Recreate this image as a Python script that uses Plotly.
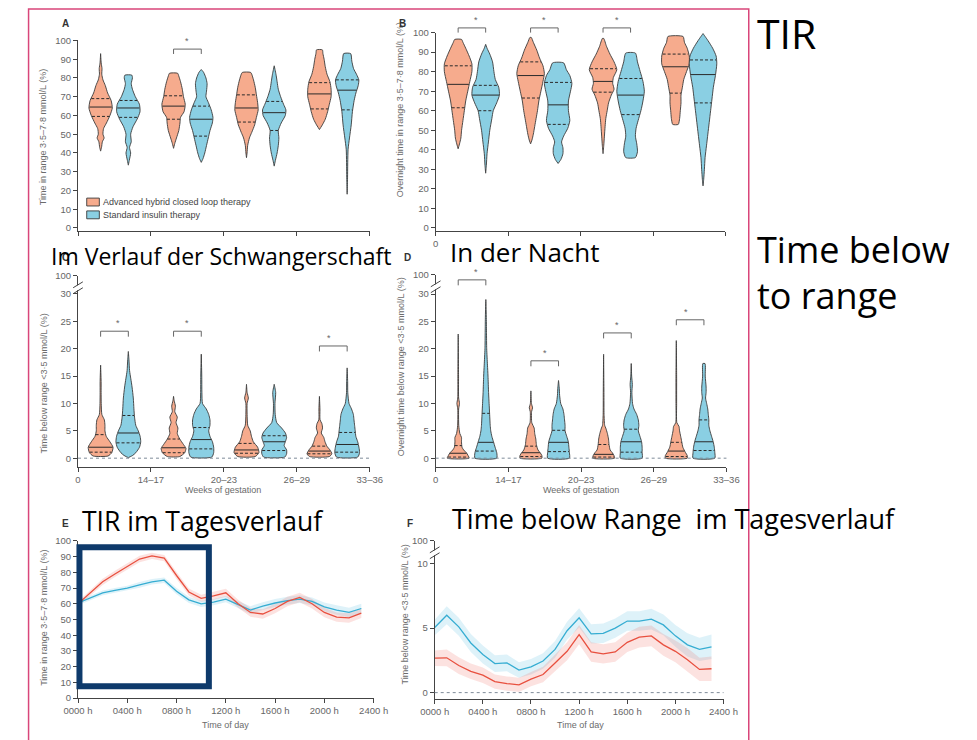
import numpy as np
import plotly.graph_objects as go

W, H = 977, 740


def px(x):
    return x / W


def py(y):
    return 1 - y / H


# ---------------- colours / fonts ----------------
ORANGE_FILL = "#F6AB8D"
BLUE_FILL = "#8ACFE3"
OUTLINE = "#3a3a3a"
RED_LINE = "#E8503F"
BLUE_LINE = "#36ADD2"
RED_BAND = "rgba(240,110,100,0.20)"
BLUE_BAND = "rgba(90,190,225,0.20)"
SMALL_FONT = "Liberation Sans Narrow, Arial Narrow, Liberation Sans, sans-serif"
BIG_FONT = "Open Sans, Noto Sans, sans-serif"
TICK_COLOR = "#666666"

# ---------------- categories / tick labels ----------------
WEEK_LABELS = ["0", "14–17", "20–23", "26–29", "33–36"]
HOURS = list(range(24))
HOUR_TICKS = [0, 4, 8, 12, 16, 20, 24]
HOUR_LABELS = ["0000 h", "0400 h", "0800 h", "1200 h", "1600 h", "2000 h", "2400 h"]
LEGEND_NAMES = ["Advanced hybrid closed loop therapy", "Standard insulin therapy"]

# ---------------- Panel A: time in range (violin profiles: (value, relative density)) ----
A_ahcl_profiles = [
    [(41, 0), (43, 0.08), (46, 0.15), (48, 0.3), (50, 0.2), (53, 0.25), (56, 0.5), (60, 0.8), (64, 1.0),
     (68, 0.9), (72, 0.6), (76, 0.4), (79, 0.2), (82, 0.1), (85, 0.12), (88, 0.05), (93, 0)],
    [(42.5, 0), (45, 0.1), (48, 0.25), (52, 0.45), (56, 0.55), (59, 0.6), (62, 0.9), (66, 1.0), (70, 0.85),
     (74, 0.75), (78, 0.6), (81, 0.45), (82.5, 0.35)],
    [(37.5, 0), (40, 0.05), (44, 0.1), (48, 0.25), (51, 0.45), (55, 0.7), (59, 0.85), (63, 1.0), (67, 0.95),
     (71, 0.85), (75, 0.75), (79, 0.6), (82, 0.45), (83, 0.35)],
    [(52.5, 0), (55, 0.25), (58, 0.5), (62, 0.7), (66, 0.85), (70, 1.0), (74, 1.0), (78, 0.9), (82, 0.65),
     (86, 0.5), (90, 0.4), (93, 0.3), (95, 0.25)],
]
A_std_profiles = [
    [(33.5, 0), (36, 0.08), (40, 0.2), (43, 0.1), (46, 0.25), (50, 0.2), (54, 0.4), (58, 0.75), (62, 1.0),
     (66, 0.95), (70, 0.6), (74, 0.35), (77, 0.25), (80, 0.35), (81.5, 0.3)],
    [(35, 0), (37, 0.15), (40, 0.3), (44, 0.45), (48, 0.6), (52, 0.75), (56, 0.95), (59, 1.0), (63, 0.85),
     (67, 0.6), (70, 0.4), (73, 0.45), (77, 0.5), (80, 0.4), (83, 0.2), (84.5, 0)],
    [(33, 0), (36, 0.1), (40, 0.25), (44, 0.35), (48, 0.4), (52, 0.35), (56, 0.6), (60, 0.95), (63, 1.0),
     (66, 0.8), (70, 0.55), (74, 0.35), (78, 0.25), (82, 0.15), (86.5, 0)],
    [(18, 0), (25, 0.03), (35, 0.05), (42, 0.08), (48, 0.2), (55, 0.35), (62, 0.45), (68, 0.6), (72, 0.75),
     (76, 0.95), (79, 1.0), (82, 0.8), (85, 0.55), (89, 0.4), (93, 0.3)],
]
A_ahcl_quartiles = [(59.5, 64.5, 69), (58, 65, 70.5), (56.5, 64, 71), (63.5, 71.5, 77.5)]
A_std_quartiles = [(59, 64, 68), (49, 58, 65), (52, 61.5, 67.5), (63, 73.5, 79)]
A_sig_groups = [1]
A_bracket_levels = [95.4]

# ---------------- Panel B: overnight time in range ----------------
B_ahcl_profiles = [
    [(40.5, 0), (43, 0.1), (46, 0.2), (50, 0.25), (55, 0.35), (60, 0.45), (65, 0.55), (70, 0.7), (75, 0.85),
     (80, 1.0), (84, 1.0), (88, 0.8), (92, 0.55), (95, 0.35), (96.5, 0.25)],
    [(43, 0), (45, 0.1), (48, 0.2), (52, 0.3), (56, 0.4), (60, 0.5), (65, 0.6), (70, 0.75), (75, 0.9),
     (79, 1.0), (83, 0.9), (87, 0.65), (91, 0.45), (95, 0.2), (97.5, 0.05)],
    [(38, 0), (42, 0.05), (47, 0.1), (52, 0.15), (56, 0.2), (60, 0.3), (64, 0.4), (68, 0.6), (71, 0.8),
     (74, 0.7), (77, 0.75), (81, 1.0), (85, 0.8), (89, 0.5), (93, 0.25), (97, 0.05)],
    [(53, 0.2), (56, 0.3), (60, 0.35), (64, 0.4), (68, 0.4), (72, 0.5), (76, 0.6), (80, 0.8), (84, 1.0),
     (88, 1.0), (92, 0.85), (95, 0.65), (98, 0.55)],
]
B_std_profiles = [
    [(28, 0), (32, 0.05), (38, 0.1), (44, 0.2), (50, 0.3), (56, 0.45), (60, 0.55), (64, 0.8), (68, 1.0),
     (72, 0.95), (76, 0.7), (80, 0.6), (85, 0.5), (89, 0.3), (92, 0.1), (94, 0)],
    [(33, 0), (35, 0.2), (38, 0.35), (41, 0.35), (44, 0.25), (47, 0.4), (51, 0.7), (55, 0.85), (60, 0.75),
     (65, 0.75), (70, 0.9), (74, 1.0), (78, 0.85), (81, 0.6), (84.5, 0.4)],
    [(36, 0.35), (39, 0.5), (43, 0.45), (47, 0.35), (51, 0.4), (55, 0.55), (60, 0.75), (65, 0.9), (70, 1.0),
     (75, 0.9), (80, 0.7), (85, 0.5), (89.5, 0.35)],
    [(21.5, 0), (25, 0.05), (30, 0.1), (36, 0.15), (42, 0.25), (48, 0.35), (54, 0.45), (60, 0.55), (66, 0.65),
     (72, 0.75), (78, 0.9), (84, 1.0), (88, 0.95), (92, 0.7), (96, 0.35), (99.5, 0)],
]
B_ahcl_quartiles = [(61.5, 73.5, 83), (66.5, 78, 85), (69.5, 75, 81.5), (69, 82.5, 89)]
B_std_quartiles = [(60, 68, 73), (53, 63, 74.5), (58, 68, 76.5), (64, 78.5, 86)]
B_sig_groups = [0, 1, 2]
B_bracket_levels = [102.4, 102.4, 102.4]

# ---------------- Panel C: time below range ----------------
C_ahcl_profiles = [
    [(0.4, 0.6), (1, 0.9), (2, 1.0), (3, 0.75), (4, 0.45), (5, 0.35), (6, 0.35), (7, 0.3), (8, 0.1), (10, 0.05),
     (12, 0.04), (14, 0.04), (17, 0)],
    [(0.3, 0.5), (1, 0.9), (1.8, 1.0), (2.5, 0.8), (3.5, 0.5), (4.5, 0.3), (5.5, 0.35), (6.5, 0.2), (7.5, 0.3),
     (8.5, 0.1), (9.5, 0.15), (10.5, 0.05), (11.3, 0)],
    [(0.3, 0.7), (1, 1.0), (2, 0.9), (3, 0.55), (4, 0.4), (5, 0.3), (6, 0.1), (8, 0.05), (10, 0.05), (11, 0.15),
     (12, 0.05), (13.5, 0)],
    [(0.3, 0.8), (0.8, 1.0), (1.5, 0.85), (2.2, 0.6), (3, 0.45), (3.8, 0.35), (4.6, 0.15), (5.5, 0.25),
     (6.3, 0.2), (7, 0.05), (9, 0.04), (11.3, 0)],
]
C_std_profiles = [
    [(0.1, 0), (0.5, 0.35), (1, 0.6), (2, 0.9), (3, 1.0), (4, 0.95), (5, 0.8), (6, 0.6), (7.5, 0.5), (9, 0.45),
     (11, 0.4), (13, 0.3), (14.5, 0.2), (16, 0.1), (18, 0.05), (19.5, 0)],
    [(0.2, 0.85), (1, 1.0), (2, 1.0), (3, 0.9), (4, 0.7), (5, 0.6), (6, 0.7), (7, 0.7), (8, 0.6), (9, 0.4),
     (10, 0.1), (12, 0.05), (15, 0.04), (19, 0)],
    [(0.2, 0.85), (0.8, 1.0), (1.5, 1.0), (2.3, 0.8), (3, 0.9), (3.8, 1.0), (4.6, 0.9), (5.5, 0.6), (6.5, 0.2),
     (8, 0.08), (10, 0.06), (12, 0.12), (13.5, 0)],
    [(0.2, 0.85), (1, 1.0), (2, 0.95), (3, 0.85), (4, 0.7), (5, 0.65), (6, 0.6), (7, 0.55), (8, 0.5), (9, 0.35),
     (10, 0.15), (12, 0.05), (14, 0.04), (16.5, 0)],
]
C_ahcl_quartiles = [(1.1, 2.0, 4.3), (1.0, 1.9, 3.5), (0.9, 1.5, 2.7), (0.8, 1.3, 2.2)]
C_std_quartiles = [(2.8, 4.6, 7.8), (1.7, 3.4, 5.6), (1.4, 3.0, 4.1), (1.1, 2.5, 4.7)]
C_sig_groups = [0, 1, 3]
C_bracket_levels = [23.2, 23.2, 20.5]

# ---------------- Panel D: overnight time below range ----------------
D_ahcl_profiles = [
    [(0, 1.0), (0.5, 0.9), (1, 0.75), (1.5, 0.5), (2, 0.35), (3, 0.3), (3.8, 0.3), (4.5, 0.15), (6, 0.05),
     (9, 0.04), (10, 0.12), (11, 0.04), (15, 0.03), (22.7, 0)],
    [(0, 1.0), (0.5, 1.0), (1, 0.85), (1.5, 0.65), (2.5, 0.5), (3.5, 0.45), (4.5, 0.35), (5.5, 0.3), (6.5, 0.08),
     (8.5, 0.06), (9.2, 0.15), (10, 0.05), (12.3, 0)],
    [(0, 1.0), (0.5, 0.95), (1, 0.8), (1.5, 0.6), (2.5, 0.5), (3.5, 0.45), (4.5, 0.35), (5.5, 0.2), (6, 0.1),
     (8, 0.04), (12, 0.03), (19, 0)],
    [(0, 1.0), (0.5, 1.0), (1, 0.85), (2, 0.6), (3, 0.5), (4, 0.4), (5, 0.3), (5.8, 0.25), (6.5, 0.05), (10, 0.03),
     (15, 0.03), (21.5, 0)],
]
D_std_profiles = [
    [(0, 1.0), (1, 1.0), (2, 0.85), (3, 0.7), (4, 0.55), (5, 0.45), (6, 0.4), (8, 0.35), (10, 0.3), (12, 0.25),
     (15, 0.2), (17, 0.15), (20, 0.08), (23, 0.06), (26, 0.04), (29, 0)],
    [(0, 1.0), (1, 1.0), (2, 0.95), (3, 0.9), (4, 0.75), (5, 0.6), (6, 0.6), (7, 0.55), (8, 0.5), (9, 0.4),
     (10, 0.2), (11.5, 0.1), (13, 0.06), (14.2, 0)],
    [(0, 1.0), (1, 1.0), (2, 1.0), (3, 0.95), (4, 0.8), (5, 0.65), (6, 0.7), (7, 0.65), (8, 0.5), (9, 0.25),
     (10, 0.12), (12, 0.06), (13.5, 0.1), (15, 0.04), (17.3, 0)],
    [(0, 1.0), (1, 1.0), (2, 0.95), (3, 0.85), (4, 0.7), (5, 0.55), (6, 0.45), (7, 0.45), (8, 0.4), (9, 0.35),
     (10, 0.25), (11, 0.15), (12, 0.2), (13, 0.2), (15, 0.12), (17.3, 0.1)],
]
D_ahcl_quartiles = [(0.2, 0.9, 2.3), (0.3, 1.0, 2.2), (0.2, 0.7, 2.5), (0.3, 1.3, 2.9)]
D_std_quartiles = [(1.3, 2.9, 8.2), (1.2, 2.9, 5.1), (1.1, 3.0, 5.3), (1.4, 3.0, 7.0)]
D_sig_groups = [0, 1, 2, 3]
D_bracket_levels = [32.6, 17.8, 22.9, 25.3]

# ---------------- Panel E: hourly time in range ----------------
E_ahcl = [60, 67, 74, 79, 84, 88.5, 90.5, 89, 78, 67.5, 63.5, 65, 67, 60, 54.5, 53.5, 57, 61.5, 64, 60,
          54.5, 51.5, 51, 54]
E_std = [60.5, 64, 67, 68.5, 70, 72, 74, 75, 68, 62.5, 60, 61, 63, 59.5, 56, 58.5, 60.5, 62, 63, 61.5,
         58, 56, 54.5, 57]
E_ahcl_ci = [1.5, 1.8, 2, 2, 2, 2, 2, 2, 2.2, 2.2, 2.2, 2.5, 2.5, 2.5, 2.8, 3, 3, 3, 3, 3, 3, 3, 3, 3]
E_std_ci = [1.5, 1.5, 1.5, 1.5, 1.5, 1.8, 1.8, 1.8, 2, 2, 2, 2, 2, 2.2, 2.5, 2.5, 2.5, 2.5, 2.5, 2.5, 2.8, 3, 3, 3]

# ---------------- Panel F: hourly time below range ----------------
F_ahcl = [2.67, 2.7, 2.1, 1.65, 1.35, 0.85, 0.7, 0.6, 1.05, 1.4, 2.3, 3.2, 4.5, 3.15, 3.0, 3.15, 3.9, 4.3,
          4.4, 3.7, 3.2, 2.55, 1.8, 1.85]
F_std = [5.05, 6.0, 5.1, 3.85, 2.95, 2.25, 2.3, 1.75, 2.0, 2.45, 3.35, 4.8, 5.8, 4.55, 4.6, 5.0, 5.55, 5.55,
         5.7, 5.25, 4.4, 3.7, 3.35, 3.55]
F_ahcl_ci = [0.6, 0.65, 0.65, 0.6, 0.6, 0.55, 0.55, 0.55, 0.55, 0.6, 0.65, 0.7, 0.75, 0.75, 0.75, 0.75, 0.75,
             0.8, 0.8, 0.85, 0.85, 0.9, 0.9, 0.95]
F_std_ci = [0.6, 0.7, 0.7, 0.7, 0.7, 0.65, 0.65, 0.6, 0.6, 0.6, 0.65, 0.7, 0.75, 0.75, 0.75, 0.75, 0.75, 0.75,
            0.8, 0.8, 0.85, 0.9, 0.9, 0.95]

# ---------------- layout geometry (pixels) ----------------
PANELS = {
    1: dict(xd=(65, 366), yd=(228, 35), xr=[0, 4], yr=[-1.4, 100]),
    2: dict(xd=(434, 733), yd=(228, 27), xr=[0, 4], yr=[-1.4, 100]),
    3: dict(xd=(65, 366), yd=(468, 274), xr=[0, 4], yr=[-1.62, 33.3]),
    4: dict(xd=(434, 734), yd=(468, 273), xr=[0, 4], yr=[-1.62, 33.5]),
    5: dict(xd=(65, 370), yd=(702.5, 543), xr=[0, 24], yr=[0, 100]),
    6: dict(xd=(433, 731), yd=(703, 543), xr=[0, 24], yr=[-0.46, 11.76]),
}
AHCL_OFFSET, STD_OFFSET = 0.31, 0.69
MAX_HALF_WIDTH = {1: 0.16, 2: 0.19, 3: 0.17, 4: 0.15}

fig = go.Figure()


def ax(n):
    return ("x" if n == 1 else f"x{n}"), ("y" if n == 1 else f"y{n}")


def add_violins(n, profiles, quartiles, offset, fill):
    xa, ya = ax(n)
    hw = MAX_HALF_WIDTH[n]
    mx, my, qx, qy = [], [], [], []
    for g, prof in enumerate(profiles):
        c = g + offset
        ys = np.array([p[0] for p in prof], float)
        ws = np.array([p[1] for p in prof], float) * hw
        xs = np.concatenate([c + ws, (c - ws)[::-1], [c + ws[0]]])
        yy = np.concatenate([ys, ys[::-1], [ys[0]]])
        fig.add_trace(go.Scatter(x=xs, y=yy, mode="lines", fill="toself", fillcolor=fill,
                                 line=dict(color=OUTLINE, width=0.9, shape="spline", smoothing=0.6),
                                 xaxis=xa, yaxis=ya, hoverinfo="skip", showlegend=False))
        q1, med, q3 = quartiles[g]
        for val, tx, ty in ((med, mx, my), (q1, qx, qy), (q3, qx, qy)):
            w = float(np.interp(val, ys, ws)) * 0.97
            tx += [c - w, c + w, None]
            ty += [val, val, None]
    fig.add_trace(go.Scatter(x=mx, y=my, mode="lines", line=dict(color="#2a2a2a", width=1),
                             xaxis=xa, yaxis=ya, hoverinfo="skip", showlegend=False))
    fig.add_trace(go.Scatter(x=qx, y=qy, mode="lines", line=dict(color="#2a2a2a", width=1, dash="3px,2px"),
                             xaxis=xa, yaxis=ya, hoverinfo="skip", showlegend=False))


shapes = []
annotations = []


def add_brackets(n, groups, levels, leg):
    xa, ya = ax(n)
    r0, r1 = PANELS[n]["yr"]
    for g, lvl in zip(groups, levels):
        x0 = (g + AHCL_OFFSET) / 4
        x1 = (g + STD_OFFSET) / 4
        yt = (lvl - r0) / (r1 - r0)
        yb = (lvl - leg - r0) / (r1 - r0)
        shapes.append(dict(type="path", xref=f"{xa} domain", yref=f"{ya} domain",
                           path=f"M {x0},{yb} L {x0},{yt} L {x1},{yt} L {x1},{yb}",
                           line=dict(color="#666", width=1)))
        annotations.append(dict(x=(g + 0.5) / 4, y=yt, xref=f"{xa} domain", yref=f"{ya} domain", text="*",
                                showarrow=False, yanchor="bottom", yshift=1,
                                font=dict(size=9, color="#666", family=SMALL_FONT)))


for n, (ap, aq, sp, sq, sg, bl, leg) in {
    1: (A_ahcl_profiles, A_ahcl_quartiles, A_std_profiles, A_std_quartiles, A_sig_groups, A_bracket_levels, 2.6),
    2: (B_ahcl_profiles, B_ahcl_quartiles, B_std_profiles, B_std_quartiles, B_sig_groups, B_bracket_levels, 2.4),
    3: (C_ahcl_profiles, C_ahcl_quartiles, C_std_profiles, C_std_quartiles, C_sig_groups, C_bracket_levels, 1.0),
    4: (D_ahcl_profiles, D_ahcl_quartiles, D_std_profiles, D_std_quartiles, D_sig_groups, D_bracket_levels, 1.0),
}.items():
    add_violins(n, ap, aq, AHCL_OFFSET, ORANGE_FILL)
    add_violins(n, sp, sq, STD_OFFSET, BLUE_FILL)
    add_brackets(n, sg, bl, leg)

# hourly panels
for n, series in ((5, [(E_std, E_std_ci, BLUE_BAND), (E_ahcl, E_ahcl_ci, RED_BAND)]),
                  (6, [(F_std, F_std_ci, BLUE_BAND), (F_ahcl, F_ahcl_ci, RED_BAND)])):
    xa, ya = ax(n)
    for vals, ci, band in series:
        v = np.array(vals, float)
        c = np.array(ci, float)
        fig.add_trace(go.Scatter(x=HOURS, y=v + c, mode="lines", line=dict(width=0), xaxis=xa, yaxis=ya,
                                 hoverinfo="skip", showlegend=False))
        fig.add_trace(go.Scatter(x=HOURS, y=v - c, mode="lines", line=dict(width=0), fill="tonexty",
                                 fillcolor=band, xaxis=xa, yaxis=ya, hoverinfo="skip", showlegend=False))
for n, std, ahcl in ((5, E_std, E_ahcl), (6, F_std, F_ahcl)):
    xa, ya = ax(n)
    fig.add_trace(go.Scatter(x=HOURS, y=std, mode="lines", line=dict(color=BLUE_LINE, width=1.3),
                             xaxis=xa, yaxis=ya, hoverinfo="skip", showlegend=False))
    fig.add_trace(go.Scatter(x=HOURS, y=ahcl, mode="lines", line=dict(color=RED_LINE, width=1.3),
                             xaxis=xa, yaxis=ya, hoverinfo="skip", showlegend=False))

# ---------------- axes ----------------
tickfont = dict(family=SMALL_FONT, size=9.5, color=TICK_COLOR)
common = dict(showline=True, linecolor="#444", linewidth=1, ticks="outside", ticklen=4, tickcolor="#444",
              tickwidth=1, showgrid=False, zeroline=False, tickfont=tickfont, fixedrange=True)
layout_axes = {}
y_ticks = {
    1: (list(range(0, 101, 10)), [str(v) for v in range(0, 101, 10)]),
    2: (list(range(0, 101, 10)), [str(v) for v in range(0, 101, 10)]),
    3: ([0, 5, 10, 15, 20, 25, 30, 33.3], ["0", "5", "10", "15", "20", "25", "30", "100"]),
    4: ([0, 5, 10, 15, 20, 25, 30, 33.5], ["0", "5", "10", "15", "20", "25", "30", "100"]),
    5: (list(range(0, 101, 10)), [str(v) for v in range(0, 101, 10)]),
    6: ([0, 5, 10, 11.76], ["0", "5", "10", "100"]),
}
x_ticks = {
    1: ([0, 1, 2, 3, 4], ["", "", "", "", ""]),
    2: ([0, 1, 2, 3, 4], ["0", "", "", "", ""]),
    3: ([0, 1, 2, 3, 4], WEEK_LABELS),
    4: ([0, 1, 2, 3, 4], WEEK_LABELS),
    5: (HOUR_TICKS, HOUR_LABELS),
    6: (HOUR_TICKS, HOUR_LABELS),
}
for n, p in PANELS.items():
    xk = "xaxis" if n == 1 else f"xaxis{n}"
    yk = "yaxis" if n == 1 else f"yaxis{n}"
    xa, ya = ax(n)
    layout_axes[xk] = dict(common, domain=[px(p["xd"][0]), px(p["xd"][1])], range=p["xr"], anchor=ya,
                           tickvals=x_ticks[n][0], ticktext=x_ticks[n][1])
    layout_axes[yk] = dict(common, domain=[py(p["yd"][0]), py(p["yd"][1])], range=p["yr"], anchor=xa,
                           tickvals=y_ticks[n][0], ticktext=y_ticks[n][1])

# dotted zero lines
for n in (3, 4, 6):
    xa, ya = ax(n)
    shapes.append(dict(type="line", xref=f"{xa} domain", yref=ya, x0=0, x1=1, y0=0, y1=0,
                       line=dict(color="#7f8c99", width=1, dash="dot")))

# axis breaks (//)
for (bx, by) in ((65, 286), (434, 285), (433, 555)):
    shapes.append(dict(type="rect", xref="paper", yref="paper", x0=px(bx - 3), x1=px(bx + 3),
                       y0=py(by + 2.5), y1=py(by - 2.5), line=dict(width=0), fillcolor="white"))
    for dy in (-3, 3):
        shapes.append(dict(type="line", xref="paper", yref="paper", x0=px(bx - 5), x1=px(bx + 5),
                           y0=py(by + dy + 3), y1=py(by + dy - 3), line=dict(color="#444", width=1)))

# legend (panel A)
for i, (name, col) in enumerate(zip(LEGEND_NAMES, [ORANGE_FILL, BLUE_FILL])):
    yc = 199 + 13 * i
    shapes.append(dict(type="rect", xref="paper", yref="paper", x0=px(74), x1=px(87), y0=py(yc + 4),
                       y1=py(yc - 4), fillcolor=col, line=dict(color=OUTLINE, width=0.9)))
    annotations.append(dict(x=px(89), y=py(yc), xref="paper", yref="paper", text=name, showarrow=False,
                            xanchor="left", yanchor="middle",
                            font=dict(family=SMALL_FONT, size=9, color="#444")))

# axis titles
ytitles = [
    (29, 133, "Time in range 3·5–7·8 mmol/L (%)"),
    (398, 105, "Overnight time in range 3·5–7·8 mmol/L (%)"),
    (30, 383, "Time below range <3·5 mmol/L (%)"),
    (398, 366, "Overnight time below range <3·5 mmol/L (%)"),
    (30, 621, "Time in range 3·5–7·8 mmol/L (%)"),
    (402, 618, "Time below range <3·5 mmol/L (%)"),
]
for x, y, t in ytitles:
    annotations.append(dict(x=px(x), y=py(y), xref="paper", yref="paper", text=t, showarrow=False,
                            textangle=-90, xanchor="center", yanchor="middle",
                            font=dict(family=SMALL_FONT, size=9, color="#6b6b6b")))
xtitles = [(215, 491, "Weeks of gestation"), (584, 491, "Weeks of gestation"),
           (217, 730, "Time of day"), (583, 730, "Time of day")]
for x, y, t in xtitles:
    annotations.append(dict(x=px(x), y=py(y), xref="paper", yref="paper", text=t, showarrow=False,
                            xanchor="center", yanchor="middle",
                            font=dict(family=SMALL_FONT, size=9, color="#6b6b6b")))

# panel letters
for x, y, t in ((52, 18, "A"), (400, 18, "B"), (52, 255, "C"), (405, 255, "D"), (52, 525, "E"), (407, 525, "F")):
    annotations.append(dict(x=px(x), y=py(y), xref="paper", yref="paper", text=f"<b>{t}</b>", showarrow=False,
                            xanchor="center", yanchor="middle",
                            font=dict(family="Liberation Sans, sans-serif", size=10, color="#333")))

# overlay slide texts
big = [
    (764, 27, "TIR", 41),
    (764, 247, "Time below", 36),
    (764, 294, "to range", 36),
    (36, 254, "Im Verlauf der Schwangerschaft", 23),
    (448, 250, "In der Nacht", 26),
    (68, 523, "TIR im Tagesverlauf", 26.5),
    (450, 520, "Time below Range\u00a0 im Tagesverlauf", 27),
]
for x, y, t, s in big:
    annotations.append(dict(x=px(x), y=py(y), xref="paper", yref="paper", text=t, showarrow=False,
                            xanchor="left", yanchor="middle", borderpad=0,
                            font=dict(family=BIG_FONT, size=s, color="#000")))

# pink frame and dark blue highlight box
shapes.append(dict(type="rect", xref="paper", yref="paper", x0=px(14), x1=px(757), y0=py(760), y1=py(3),
                   line=dict(color="#D9467A", width=1.5), layer="above"))
shapes.append(dict(type="rect", xref="paper", yref="paper", x0=px(66.5), x1=px(200), y0=py(690.5),
                   y1=py(549.5), line=dict(color="#0E3A6B", width=6), layer="above"))

fig.update_layout(width=W, height=H, autosize=False, margin=dict(l=0, r=0, t=0, b=0),
                  paper_bgcolor="white", plot_bgcolor="white", showlegend=False,
                  shapes=shapes, annotations=annotations, **layout_axes)

fig.write_html("out.html", config={"displayModeBar": False},
               post_script="document.body.style.margin='0';document.body.style.overflow='hidden';")
